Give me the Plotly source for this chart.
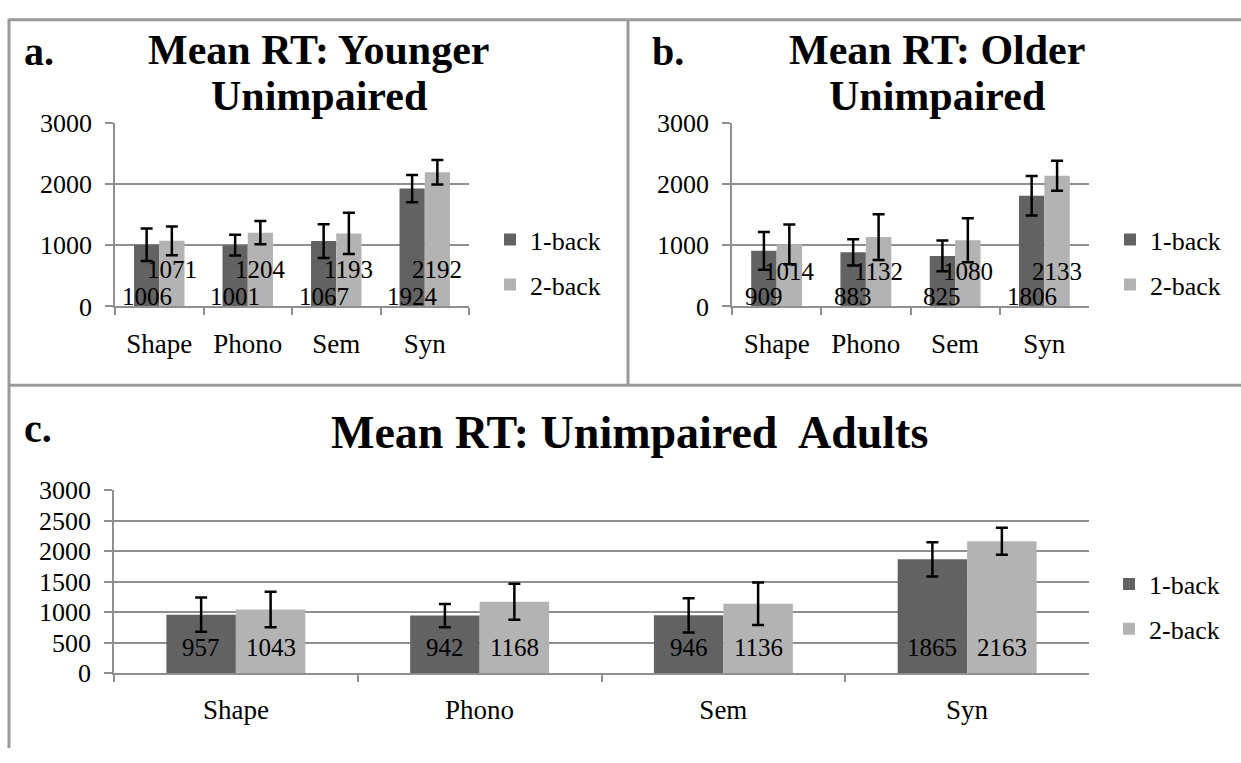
import plotly.graph_objects as go

# ---------------- data ----------------
categories = ["Shape", "Phono", "Sem", "Syn"]
series_names = ["1-back", "2-back"]

young_1back = [1006, 1001, 1067, 1924]
young_2back = [1071, 1204, 1193, 2192]
young_err_1back = [265, 168, 275, 222]
young_err_2back = [236, 190, 335, 200]

older_1back = [909, 883, 825, 1806]
older_2back = [1014, 1132, 1080, 2133]
older_err_1back = [308, 215, 250, 323]
older_err_2back = [325, 375, 360, 245]

all_1back = [957, 942, 946, 1865]
all_2back = [1043, 1168, 1136, 2163]
all_err_1back = [282, 192, 282, 282]
all_err_2back = [292, 295, 347, 221]

panel_letters = ["a.", "b.", "c."]
panel_titles = [["Mean RT: Younger", "Unimpaired"],
                ["Mean RT: Older", "Unimpaired"],
                ["Mean RT: Unimpaired  Adults"]]

# ---------------- layout helpers ----------------
W, H = 1241, 763
FONT = "Liberation Serif, Times New Roman, serif"
DARK = "#626262"
LIGHT = "#b3b3b3"
GRID = "#8f8f8f"
BARGAP = 0.43


def px_x(p):
    return p / W


def px_y(p):
    return 1 - p / H


panels = [
    dict(xd=(115, 469), yd=(304, 113), dtick=1000, data=(young_1back, young_2back),
         err=(young_err_1back, young_err_2back), leg_x=490, leg_y=258,
         shifts=(10, 37), title_cx=319, title_y=(37, 85), title_size=42,
         letter_x=22, letter_y=39),
    dict(xd=(732, 1089), yd=(304, 113), dtick=1000, data=(older_1back, older_2back),
         err=(older_err_1back, older_err_2back), leg_x=1110, leg_y=258,
         shifts=(10, 35), title_cx=937, title_y=(37, 85), title_size=42,
         letter_x=650, letter_y=39),
    dict(xd=(114, 1089), yd=(685, 495), dtick=500, data=(all_1back, all_2back),
         err=(all_err_1back, all_err_2back), leg_x=1109, leg_y=616,
         shifts=(25, 25), title_cx=629, title_y=(435,), title_size=46,
         letter_x=22, letter_y=431),
]

fig = go.Figure()
annotations = []
legend_names = ["legend", "legend2", "legend3"]

for i, p in enumerate(panels):
    sfx = "" if i == 0 else str(i + 1)
    xa, ya = "x" + sfx, "y" + sfx
    colors = [DARK, LIGHT]
    for s in range(2):
        fig.add_trace(go.Bar(
            x=categories, y=p["data"][s], name=series_names[s],
            marker=dict(color=colors[s], line=dict(width=0)),
            error_y=dict(type="data", array=p["err"][s], visible=True,
                         color="black", thickness=2.5, width=6),
            xaxis=xa, yaxis=ya, legend=legend_names[i],
            legendgroup=f"g{i}{s}", showlegend=True,
        ))
    fig.update_layout(**{
        "xaxis" + sfx: dict(
            domain=[px_x(p["xd"][0]), px_x(p["xd"][1])], anchor=ya,
            type="category", categoryorder="array", categoryarray=categories,
            showline=True, linecolor=GRID, linewidth=1.5,
            ticks="outside", tickson="boundaries", ticklen=7, tickcolor=GRID,
            tickwidth=1.5, ticklabelstandoff=12,
            tickfont=dict(family=FONT, size=27, color="black"),
            showgrid=False, zeroline=False, fixedrange=True),
        "yaxis" + sfx: dict(
            domain=[px_y(p["yd"][0]), px_y(p["yd"][1])], anchor=xa,
            range=[0, 3000], dtick=p["dtick"], tick0=0,
            showline=True, linecolor=GRID, linewidth=1.5,
            ticks="outside", ticklen=8, tickcolor=GRID, tickwidth=1.5,
            ticklabelstandoff=8,
            tickfont=dict(family=FONT, size=26, color="black"),
            showgrid=True, gridcolor=GRID, gridwidth=1.5, zeroline=False,
            fixedrange=True),
        legend_names[i]: dict(
            x=px_x(p["leg_x"]), y=px_y(p["leg_y"]), xanchor="left",
            yanchor="middle", bgcolor="rgba(0,0,0,0)",
            font=dict(family=FONT, size=26, color="black"),
            tracegroupgap=8, itemwidth=30),
    })
    # data labels
    cat_w = (p["xd"][1] - p["xd"][0]) / len(categories)
    off = cat_w * (1 - BARGAP) / 4
    for s in range(2):
        for c, v in zip(categories, p["data"][s]):
            annotations.append(dict(
                x=c, y=0, xref=xa, yref=ya, text=str(v), showarrow=False,
                xanchor="center", yanchor="middle",
                xshift=(-off if s == 0 else off), yshift=p["shifts"][s],
                font=dict(family=FONT, size=25, color="black")))
    # titles
    for line, ty in zip(panel_titles[i], p["title_y"]):
        annotations.append(dict(
            x=px_x(p["title_cx"]), y=px_y(ty), xref="paper", yref="paper",
            text=f"<b>{line}</b>", showarrow=False, xanchor="center",
            yanchor="middle",
            font=dict(family=FONT, size=p["title_size"], color="black")))
    annotations.append(dict(
        x=px_x(p["letter_x"]), y=px_y(p["letter_y"]), xref="paper", yref="paper",
        text=f"<b>{panel_letters[i]}</b>", showarrow=False, xanchor="left",
        yanchor="middle", font=dict(family=FONT, size=40, color="black")))

# panel borders
border = dict(color="#9a9a9a", width=3)
shapes = [
    dict(type="line", xref="paper", yref="paper", x0=px_x(9), x1=px_x(9),
         y0=px_y(5), y1=px_y(763), line=border),
    dict(type="line", xref="paper", yref="paper", x0=px_x(9), x1=px_x(1241),
         y0=px_y(6), y1=px_y(6), line=border),
    dict(type="line", xref="paper", yref="paper", x0=px_x(628), x1=px_x(628),
         y0=px_y(6), y1=px_y(386), line=border),
    dict(type="line", xref="paper", yref="paper", x0=px_x(9), x1=px_x(1241),
         y0=px_y(386), y1=px_y(386), line=border),
]

fig.update_layout(
    width=W, height=H, autosize=False,
    margin=dict(l=0, r=0, t=0, b=0),
    paper_bgcolor="white", plot_bgcolor="white",
    barmode="group", bargap=BARGAP, bargroupgap=0,
    annotations=annotations, shapes=shapes,
    font=dict(family=FONT, color="black"),
)

fig.write_html(
    "out.html",
    config={"displayModeBar": False},
    post_script="document.body.style.margin='0';document.body.style.overflow='hidden';",
)
